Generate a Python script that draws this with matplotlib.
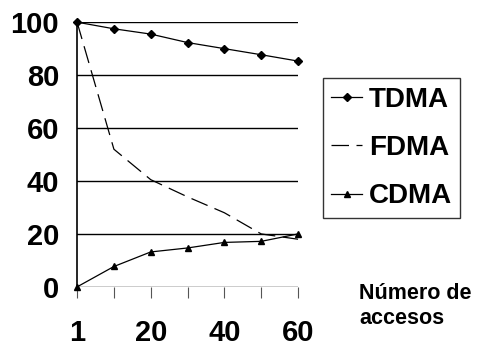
import matplotlib
matplotlib.use("Agg")
import matplotlib.pyplot as plt

plt.rcParams["font.family"] = ["Liberation Sans", "DejaVu Sans"]

# datos (eje x categórico: número de accesos)
categorias = ["1", "10", "20", "30", "40", "50", "60"]
etiquetas_x = ["1", "", "20", "", "40", "", "60"]
tdma = [100, 97.5, 95.5, 92.3, 90, 87.7, 85.3]
fdma = [100, 52, 40.5, 34, 28, 20, 18]
cdma = [0, 7.7, 13.2, 14.7, 16.8, 17.2, 20]
y_ticks = [0, 20, 40, 60, 80, 100]

fig = plt.figure(figsize=(4.91, 3.52), dpi=100)
ax = fig.add_axes([0.157, 0.185, 0.45, 0.752])
pos = list(range(len(categorias)))

ax.plot(pos, tdma, color="black", lw=0.9, marker="D", ms=4.5, label="TDMA", clip_on=False, zorder=3)
ax.plot(pos, fdma, color="black", lw=0.9, ls=(0, (14, 6)), label="FDMA", clip_on=False, zorder=3)
ax.plot(pos, cdma, color="black", lw=0.9, marker="^", ms=5, label="CDMA", clip_on=False, zorder=3)

ax.set_xlim(0, len(categorias) - 1)
ax.set_ylim(0, 100)
ax.set_yticks(y_ticks)
ax.set_xticks(pos)
ax.set_xticklabels(etiquetas_x)
ax.yaxis.grid(True, color="black", lw=1.0)
ax.set_axisbelow(True)
for s in ["top", "right", "bottom"]:
    ax.spines[s].set_visible(False)
ax.spines["left"].set_linewidth(1.2)
ax.tick_params(axis="y", length=0, pad=13, labelsize=21)
ax.tick_params(axis="x", length=8, width=0.8, color="#555555", direction="out", pad=15, labelsize=21)
for t in ax.get_xticklabels() + ax.get_yticklabels():
    t.set_fontweight("bold")

leg = fig.legend(loc="upper left", bbox_to_anchor=(0.658, 0.777), frameon=True, fancybox=False,
                 edgecolor="black", handlelength=1.1, handletextpad=0.25, labelspacing=0.8,
                 borderpad=0.3, borderaxespad=0, prop={"size": 20, "weight": "bold"})
leg.get_frame().set_linewidth(1.0)

fig.text(0.731, 0.197, "Número de\naccesos", fontsize=15.5, fontweight="bold", va="top", ha="left",
         linespacing=1.25)

fig.savefig("out.png", dpi=100)
